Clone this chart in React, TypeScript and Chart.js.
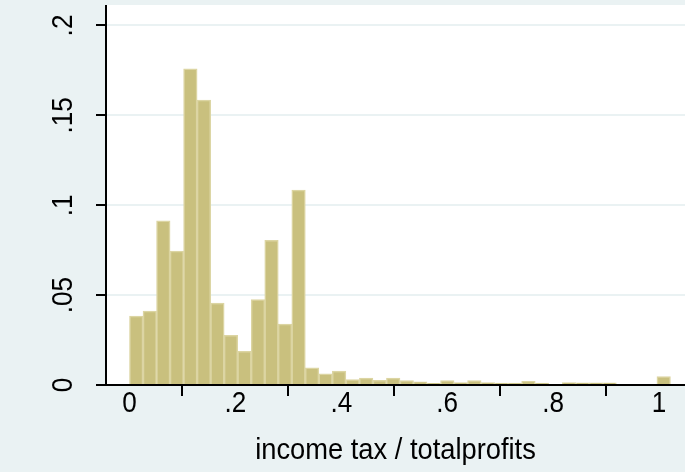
import React, { useEffect, useRef } from "react";
import { Chart, registerables } from "chart.js";

Chart.register(...registerables);

// ---- data ----
const binStart = 0;
const binWidth = 0.02554;
const fractions = [
  0.0383, 0.0411, 0.0913, 0.0745, 0.1759, 0.1585, 0.0456, 0.0276, 0.0187, 0.0475,
  0.0805, 0.0339, 0.1084, 0.0095, 0.0062, 0.0078, 0.003, 0.0039, 0.0026, 0.0039,
  0.0024, 0.0018, 0.0009, 0.0024, 0.0013, 0.0024, 0.0013, 0.0011, 0.0011, 0.002,
  0.0011, 0, 0.0013, 0.0012, 0.0012, 0.0012, 0, 0, 0, 0.0047,
];
const xTickValues = [0, 0.2, 0.4, 0.6, 0.8, 1];
const xTickLabels = ["0", ".2", ".4", ".6", ".8", "1"];
const yTickValues = [0, 0.05, 0.1, 0.15, 0.2];
const yTickLabels = ["0", ".05", ".1", ".15", ".2"];
const xTitle = "income tax / totalprofits";

const FONT_FAMILY = "'Liberation Sans', Arial, Helvetica, sans-serif";
const FONT_SIZE = 30;
const SQUEEZE = 0.87;
const BG = "#EAF2F3";

const stataPlugin = {
  id: "stataLook",
  beforeDraw(chart: any) {
    const { ctx, chartArea: a, width, height } = chart;
    ctx.save();
    ctx.fillStyle = BG;
    ctx.fillRect(0, 0, width, height);
    ctx.fillStyle = "#ffffff";
    ctx.fillRect(a.left, a.top, a.right - a.left, a.bottom - a.top);
    ctx.restore();
  },
  afterDatasetsDraw(chart: any) {
    const { ctx, chartArea: a } = chart;
    ctx.save();
    ctx.strokeStyle = "#000";
    ctx.lineWidth = 2;
    ctx.beginPath();
    ctx.moveTo(a.left, a.top);
    ctx.lineTo(a.left, a.bottom);
    ctx.lineTo(a.right, a.bottom);
    ctx.stroke();
    ctx.restore();
  },
  afterDraw(chart: any) {
    const { ctx, chartArea: a } = chart;
    const xs = chart.scales.x;
    const ys = chart.scales.y;
    ctx.save();
    ctx.fillStyle = "#000";
    ctx.font = `${FONT_SIZE}px ${FONT_FAMILY}`;
    ctx.textAlign = "center";
    ctx.textBaseline = "alphabetic";
    // x tick labels
    xTickValues.forEach((v, i) => {
      const px = xs.getPixelForValue(v);
      ctx.save();
      ctx.translate(px, a.bottom + 27);
      ctx.scale(SQUEEZE, 1);
      ctx.fillText(xTickLabels[i], 0, 0);
      ctx.restore();
    });
    // x axis title
    ctx.save();
    ctx.translate((a.left + a.right) / 2, a.bottom + 74);
    ctx.scale(SQUEEZE + 0.04, 1);
    ctx.fillText(xTitle, 0, 0);
    ctx.restore();
    // y tick labels (rotated)
    yTickValues.forEach((v, i) => {
      const py = ys.getPixelForValue(v);
      ctx.save();
      ctx.translate(a.left - 34, py);
      ctx.rotate(-Math.PI / 2);
      ctx.scale(SQUEEZE, 1);
      ctx.fillText(yTickLabels[i], 0, 0);
      ctx.restore();
    });
    ctx.restore();
  },
};

export default function App() {
  const ref = useRef<HTMLCanvasElement | null>(null);

  useEffect(() => {
    if (!ref.current) return;
    const points = fractions.map((y, i) => ({ x: binStart + (i + 0.5) * binWidth, y }));
    const chart = new Chart(ref.current, {
      type: "bar",
      data: {
        datasets: [
          {
            data: points as any,
            backgroundColor: "#C9C07E",
            borderColor: "#DCD5A3",
            borderWidth: 1.5,
            borderSkipped: "bottom",
            barPercentage: 1,
            categoryPercentage: 1,
          },
        ],
      },
      options: {
        animation: false,
        responsive: false,
        devicePixelRatio: 1,
        layout: { padding: { top: 5, left: 0, right: 0, bottom: 0 } },
        plugins: { legend: { display: false }, tooltip: { enabled: false } },
        scales: {
          x: {
            type: "linear",
            min: -0.0444,
            max: 1.0491,
            offset: false,
            afterBuildTicks: (s: any) => {
              s.ticks = xTickValues.map((v) => ({ value: v }));
            },
            afterFit: (s: any) => {
              s.height = 87;
              s.paddingLeft = 0;
              s.paddingRight = 0;
            },
            ticks: { display: false, autoSkip: false, maxRotation: 0 },
            grid: {
              drawOnChartArea: false,
              color: "#000",
              tickColor: "#000",
              tickLength: 11,
              tickWidth: 2,
              lineWidth: 2,
            },
            border: { display: false },
          },
          y: {
            type: "linear",
            min: 0,
            max: 0.2114,
            afterBuildTicks: (s: any) => {
              s.ticks = yTickValues.map((v) => ({ value: v }));
            },
            afterFit: (s: any) => {
              s.width = 106;
              s.paddingTop = 0;
              s.paddingBottom = 0;
            },
            ticks: { display: false, autoSkip: false },
            grid: {
              color: BG,
              lineWidth: 2,
              tickColor: "#000",
              tickLength: 10,
              tickWidth: 2,
            },
            border: { display: false },
          },
        },
      },
      plugins: [stataPlugin],
    });
    return () => chart.destroy();
  }, []);

  return (
    <div style={{ position: "absolute", left: 0, top: 0, width: 685, height: 472 }}>
      <canvas ref={ref} width={685} height={472} style={{ display: "block", width: 685, height: 472 }} />
    </div>
  );
}
